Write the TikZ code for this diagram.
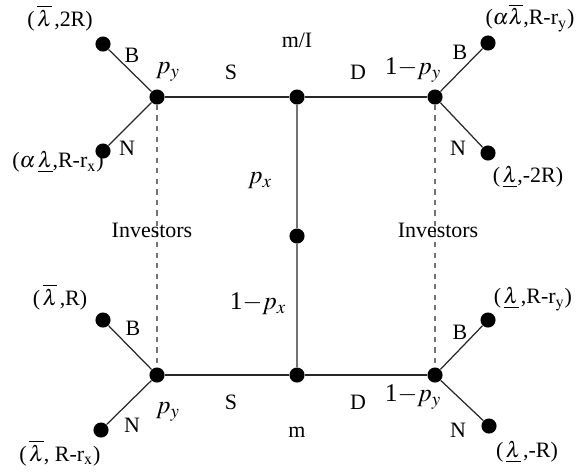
\documentclass[tikz,border=0pt]{standalone}
\usepackage{mathptmx}
\usepackage{fontspec}
\setmainfont{Liberation Serif}
\usepackage{tikz}
\usetikzlibrary{positioning,calc}

\begin{document}
\begin{tikzpicture}[
  x=0.02cm, y=-0.02cm,
  font=\fontsize{12.5}{15}\selectfont,
  dot/.style={circle, fill=black, inner sep=0pt, minimum size=8.6pt},
  branch/.style={draw=black!85, line width=0.7pt},
  inv/.style={draw=black!55, dashed, line width=0.7pt},
  lab/.style={inner sep=1pt},
  prob/.style={inner sep=1pt, font=\fontsize{14.5}{17}\selectfont},
]
\useasboundingbox (0,0) rectangle (577,471);
% decision nodes
\node[dot] (tl) at (157,97) {};
\node[dot] (tm) at (297,97) {};
\node[dot] (tr) at (435,97) {};
\node[dot] (mc) at (297,236) {};
\node[dot] (bl) at (157,375) {};
\node[dot] (bm) at (297,375) {};
\node[dot] (br) at (435,375) {};
% leaves
\node[dot] (tlb) at (103,44) {};
\node[dot] (tln) at (103,151) {};
\node[dot] (trb) at (488,43) {};
\node[dot] (trn) at (488,153) {};
\node[dot] (blb) at (103,320) {};
\node[dot] (bln) at (101,430) {};
\node[dot] (brb) at (488,320) {};
\node[dot] (brn) at (489,426) {};
% connectors
\draw[branch] (tl) -- (tm) -- (tr);
\draw[branch] (bl) -- (bm) -- (br);
\draw[branch, draw=black!55] (tm) -- (mc) -- (bm);
\draw[inv] (tl) -- (bl);
\draw[inv] (tr) -- (br);
\draw[branch] (tl) -- (tlb);
\draw[branch] (tl) -- (tln);
\draw[branch] (tr) -- (trb);
\draw[branch] (tr) -- (trn);
\draw[branch] (bl) -- (blb);
\draw[branch] (bl) -- (bln);
\draw[branch] (br) -- (brb);
\draw[branch] (br) -- (brn);
% payoffs
\node[lab] at (60,18) {($\,\overline{\lambda}\,$,2R)};
\node[lab] at (58,162) {($\alpha\,\underline{\lambda}$,R-r$_{\rm x}$)};
\node[lab] at (530,18) {($\alpha\overline{\lambda}$,R-r$_{\rm y}$)};
\node[lab] at (528,177) {($\,\underline{\lambda}$,-2R)};
\node[lab] at (60,297) {($\,\overline{\lambda}\,$,R)};
\node[lab] at (60,453) {($\,\overline{\lambda}$, R-r$_{\rm x}$)};
\node[lab] at (533,299) {($\,\underline{\lambda}\,$,R-r$_{\rm y}$)};
\node[lab] at (527,452) {($\,\underline{\lambda}\,$,-R)};
% branch labels
\node[lab] at (132,55) {B};
\node[lab] at (127,148) {N};
\node[lab] at (460,52) {B};
\node[lab] at (458,148) {N};
\node[lab] at (133,328) {B};
\node[lab] at (132,425) {N};
\node[lab] at (460,332) {B};
\node[lab] at (458,430) {N};
\node[prob] at (168,72) {$p_y$};
\node[prob] at (413,70) {1$-$$p_y$};
\node[prob] at (168,412) {$p_y$};
\node[prob] at (413,397) {1$-$$p_y$};
\node[lab] at (231,72) {S};
\node[lab] at (358,72) {D};
\node[lab] at (231,402) {S};
\node[lab] at (358,402) {D};
\node[lab] at (297,40) {m/I};
\node[lab] at (297,432) {m};
\node[prob] at (260,181) {$p_x$};
\node[prob] at (258,304) {1$-$$p_x$};
\node[lab] at (152,230) {Investors};
\node[lab] at (438,230) {Investors};
\end{tikzpicture}
\end{document}
